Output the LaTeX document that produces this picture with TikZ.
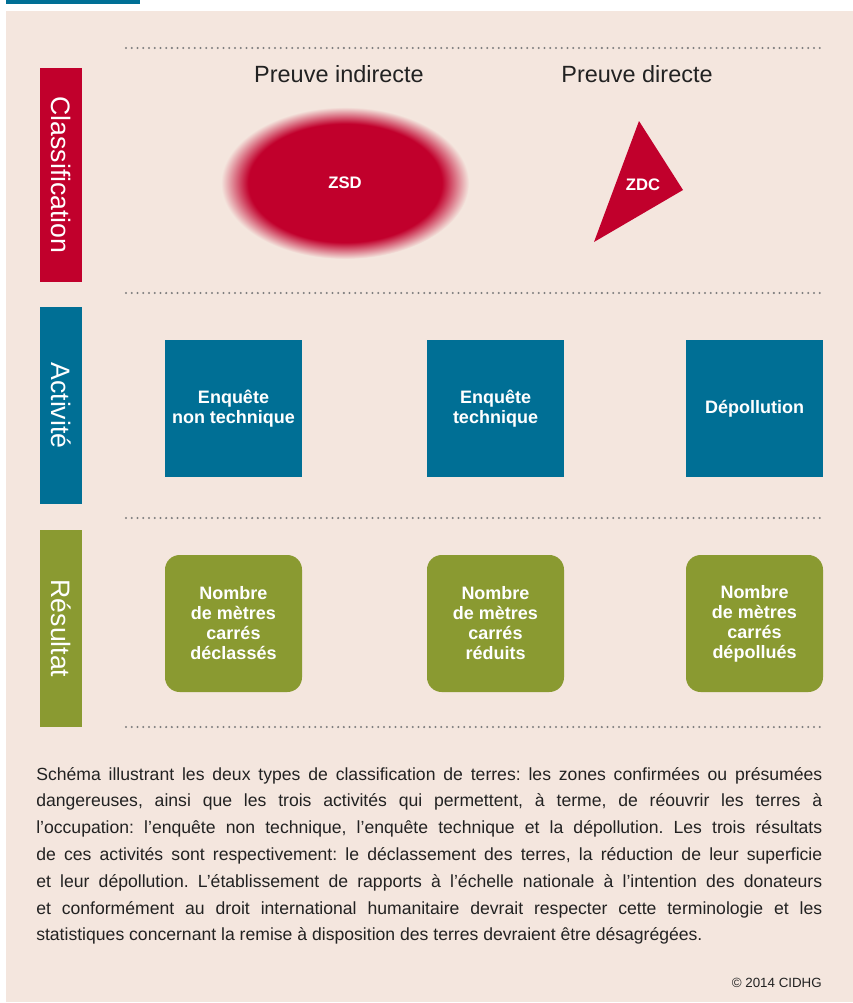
\documentclass[tikz,border=0pt]{standalone}
\usepackage{fontspec}
\setmainfont{Liberation Sans}
\definecolor{fond}{HTML}{F4E6DE}
\definecolor{rouge}{HTML}{C1002C}
\definecolor{bleu}{HTML}{006F95}
\definecolor{vertres}{HTML}{8A9A31}
\definecolor{pointille}{HTML}{7E7E7E}
\definecolor{texte}{HTML}{222222}
\pgfdeclareradialshading{flou}{\pgfpoint{0bp}{0bp}}{color(0bp)=(rouge); color(19.5bp)=(rouge); color(25bp)=(fond); color(50bp)=(fond)}

\begin{document}
\begin{tikzpicture}[x=0.75pt,y=-0.75pt,
    barre/.style={fill=#1,text=white,rotate=-90,minimum height=31.5pt,inner sep=0pt,font=\fontsize{20}{24}\selectfont},
    carre/.style={fill=bleu,text=white,minimum size=102.75pt,inner sep=0pt,align=center,font=\bfseries\fontsize{13.5}{15}\selectfont},
    resultat/.style={fill=vertres,rounded corners=11pt,text=white,minimum size=102.75pt,inner sep=0pt,align=center,font=\bfseries\fontsize{13.5}{15}\selectfont},
    titre/.style={text=texte,anchor=base,font=\fontsize{17.6}{20}\selectfont},
    sigle/.style={text=white,font=\bfseries\fontsize{12.5}{15}\selectfont},
    ligne/.style={pointille,line width=1.7pt,line cap=round,dash pattern=on 0pt off 4.3pt}]
  \useasboundingbox (0,0) rectangle (853,1003);
  \fill[white] (0,0) rectangle (853,1003);
  \fill[bleu] (6,0) rectangle (140,4);
  \fill[fond] (6,11) rectangle (853,1002);
  \foreach \y in {48,293,518,727}
    \draw[ligne] (126,\y) -- (822,\y);
  \node[barre=rouge,minimum width=160.5pt] (classif) at (61,175) {Classification};
  \node[barre=bleu,minimum width=147.75pt] (activ) at (61,405.5) {Activité};
  \node[barre=vertres,minimum width=147.75pt] (result) at (61,628.5) {Résultat};
  \node[titre] (indir) at (339,82.5) {Preuve indirecte};
  \node[titre] (dir) at (637,82.5) {Preuve directe};
  \shade[shading=flou] (345,183) ellipse [x radius=93pt,y radius=57pt];
  \node[sigle] (zsd) at (345,183) {ZSD};
  \fill[rouge] (639,121) -- (683,190) -- (594,242) -- cycle;
  \node[sigle] (zdc) at (643,185) {ZDC};
  \node[carre] (enqnt) at (233.5,408.5) {Enquête\\non technique};
  \node[carre] (enqt) at (495.5,408.5) {Enquête\\technique};
  \node[carre] (depol) at (754.5,408.5) {Dépollution};
  \node[resultat] (resdecl) at (233.5,623.5) {Nombre\\de mètres\\carrés\\déclassés};
  \node[resultat] (resred) at (495.5,623.5) {Nombre\\de mètres\\carrés\\réduits};
  \node[resultat] (resdepol) at (754.5,623.5) {Nombre\\de mètres\\carrés\\dépollués};
  \node[text=texte,text width=589.5pt,align=justify,anchor=base west,inner sep=0pt,font=\frenchspacing\fontsize{13.2}{20.1}\selectfont] (legende) at (36,780)
    {Schéma illustrant les deux types de classification de terres: les zones confirmées ou présumées\linebreak
     dangereuses, ainsi que les trois activités qui permettent, à terme, de réouvrir les terres à\linebreak
     l’occupation: l’enquête non technique, l’enquête technique et la dépollution. Les trois résultats\linebreak
     de ces activités sont respectivement: le déclassement des terres, la réduction de leur superficie\linebreak
     et leur dépollution. L’établissement de rapports à l’échelle nationale à l’intention des donateurs\linebreak
     et conformément au droit international humanitaire devrait respecter cette terminologie et les\linebreak
     statistiques concernant la remise à disposition des terres devraient être désagrégées.};
  \node[text=texte,anchor=base east,inner sep=0pt,font=\fontsize{10}{12}\selectfont] (copy) at (822,987) {© 2014 CIDHG};
\end{tikzpicture}
\end{document}
